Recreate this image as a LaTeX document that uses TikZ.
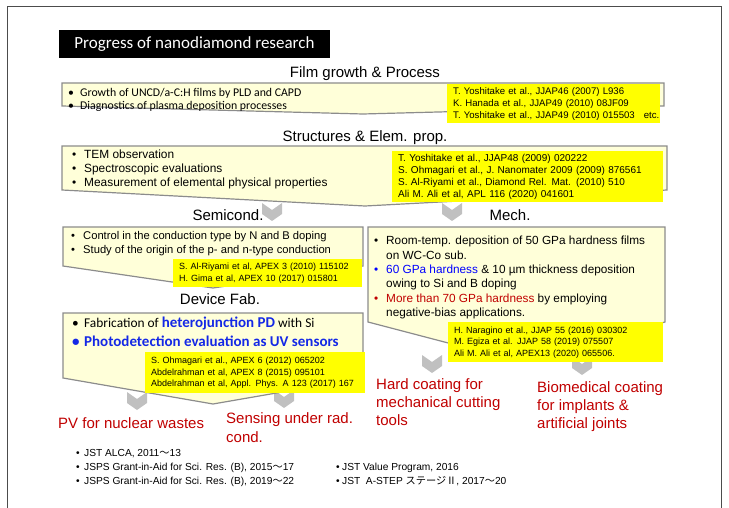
\documentclass[tikz,border=0pt]{standalone}
\usepackage{fontspec}
\setmainfont{Liberation Sans}
\newfontfamily\calibri{Carlito}
\newfontfamily\cjk{Noto Sans CJK JP}
\usepackage{xcolor}
\usepackage{tikz}
\usetikzlibrary{positioning}

\definecolor{panelfill}{HTML}{FFFFD9}
\definecolor{paneldraw}{HTML}{8C8C8C}
\definecolor{refyellow}{HTML}{FFFF00}
\definecolor{chevgray}{HTML}{C0C0C0}
\definecolor{outred}{HTML}{C00000}
\definecolor{hiblue}{HTML}{0000FF}
\definecolor{devblue}{HTML}{1428E6}

\newcommand{\bitem}{\makebox[12pt][l]{\textbullet}}
\newcommand{\bskip}{\hspace*{12pt}}

\begin{document}
\begin{tikzpicture}[x=1pt, y=-1pt,
    titlebox/.style={fill=black, text=white, font=\calibri\fontsize{17}{20}\selectfont, minimum width=271pt, minimum height=28pt, inner sep=0pt},
    heading/.style={inner sep=0pt, font=\fontsize{15}{18}\selectfont},
    panel/.style={draw=paneldraw, fill=panelfill, line width=1.2pt},
    items/.style={anchor=north west, align=left, inner sep=0pt, font=\fontsize{11.2}{14}\selectfont},
    refbox/.style={fill=refyellow, anchor=north west, align=left, inner xsep=6pt, inner ysep=0pt, font=\fontsize{9}{11.5}\selectfont},
    outcome/.style={anchor=north west, align=left, inner sep=0pt, text=outred, font=\fontsize{15}{18.5}\selectfont},
    fund/.style={anchor=north west, align=left, inner sep=0pt, font=\fontsize{10.2}{14}\selectfont},
    chevron/.pic={\fill[chevgray] (-10,0) -- (0,7) -- (10,0) -- (10,11) -- (0,18) -- (-10,11) -- cycle;}]

    \useasboundingbox (0,0) rectangle (729,508);
    \draw[black!70, line width=1pt] (7,508) -- (7,7) -- (721,7) -- (721,508);

    \node [titlebox] (title) at (194.5,44) {Progress of nanodiamond research};

    % arrows between stages
    \pic at (272,203) {chevron};
    \pic at (452,203) {chevron};
    \pic at (137,392) {chevron};
    \pic at (284,390) {chevron};
    \pic at (432,355) {chevron};
    \pic at (582,357) {chevron};

    % stage panels
    \draw [panel] (62,83) -- (664,83) -- (664,106) -- (363,114) -- (62,106) -- cycle;
    \draw [panel] (62,146) -- (667,146) -- (667,190) -- (365,206) -- (62,190) -- cycle;
    \draw [panel] (63,227) -- (363,227) -- (363,266) -- (213,288) -- (63,266) -- cycle;
    \draw [panel] (368,227) -- (665,227) -- (665,322) -- (517,361) -- (368,322) -- cycle;
    \draw [panel] (63,313) -- (363,313) -- (363,378) -- (213,404) -- (63,378) -- cycle;

    \node [heading] (film) at (365,74) {Film growth \& Process};
    \node [heading] (struct) at (365,138) {Structures \& Elem. prop.};
    \node [heading] (semi) at (228,215) {Semicond.};
    \node [heading] (mech) at (510,215) {Mech.};
    \node [heading] (dev) at (220,299) {Device Fab.};

    \node [items, font=\calibri\fontsize{11.8}{13}\selectfont] (filmtxt) at (68,88.5)
        {\bitem Growth of UNCD/a-C:H films by PLD and CAPD\\
         \bitem Diagnostics of plasma deposition processes};
    \node [items, font=\fontsize{11.9}{14}\selectfont] (structtxt) at (72,150)
        {\bitem TEM observation\\
         \bitem Spectroscopic evaluations\\
         \bitem Measurement of elemental physical properties};
    \node [items] (semitxt) at (71,231)
        {\bitem Control in the conduction type by N and B doping\\
         \bitem Study of the origin of the p- and n-type conduction};
    \node [items, font=\fontsize{11.8}{14.4}\selectfont] (mechtxt) at (374,236)
        {\bitem Room-temp. deposition of 50 GPa hardness films\\
         \bskip on WC-Co sub.\\
         \textcolor{hiblue}{\bitem 60 GPa hardness} \& 10 µm thickness deposition\\
         \bskip owing to Si and B doping\\
         \textcolor{outred}{\bitem More than 70 GPa hardness} by employing\\
         \bskip negative-bias applications.};
    \node [items, font=\calibri\fontsize{13.4}{17}\selectfont] (devtxt) at (72,317)
        {\bitem Fabrication of \textcolor{devblue}{\bfseries\fontsize{15}{17}\selectfont heterojunction PD} with Si\\[2pt]
         \textcolor{devblue}{\bfseries\fontsize{15}{17}\selectfont\bitem Photodetection evaluation as UV sensors}};

    % references
    \node [refbox, font=\fontsize{9.6}{12}\selectfont, text width=201pt, minimum height=39pt] (filmref) at (447,84)
        {T. Yoshitake et al., JJAP46 (2007) L936\\
         K. Hanada et al., JJAP49 (2010) 08JF09\\
         \mbox{T. Yoshitake et al., JJAP49 (2010) 015503\hspace{9pt}etc.}};
    \node [refbox, font=\fontsize{10}{12}\selectfont, text width=259pt, minimum height=51pt] (structref) at (392,151)
        {T. Yoshitake et al., JJAP48 (2009) 020222\\
         S. Ohmagari et al., J. Nanomater 2009 (2009) 876561\\
         S. Al-Riyami et al., Diamond Rel. Mat. (2010) 510\\
         Ali M. Ali et al, APL 116 (2020) 041601};
    \node [refbox, text width=177pt, minimum height=28pt] (semiref) at (173,259)
        {S. Al-Riyami et al, APEX 3 (2010) 115102\\
         H. Gima et al, APEX 10 (2017) 015801};
    \node [refbox, text width=203pt, minimum height=40pt] (mechref) at (448,322)
        {H. Naragino et al., JJAP 55 (2016) 030302\\
         M. Egiza et al. JJAP 58 (2019) 075507\\
         Ali M. Ali et al, APEX13 (2020) 065506.};
    \node [refbox, text width=208pt, minimum height=41pt] (devref) at (145,352)
        {S. Ohmagari et al., APEX 6 (2012) 065202\\
         Abdelrahman et al, APEX 8 (2015) 095101\\
         Abdelrahman et al, Appl. Phys. A 123 (2017) 167};

    % applications
    \node [outcome] (pv) at (58,417) {PV for nuclear wastes};
    \node [outcome, font=\fontsize{15}{19}\selectfont] (sensing) at (226,412) {Sensing under rad.\\cond.};
    \node [outcome, font=\fontsize{15}{18}\selectfont] (hard) at (376,378) {Hard coating for\\mechanical cutting\\tools};
    \node [outcome, font=\fontsize{15}{18}\selectfont] (bio) at (537,381) {Biomedical coating\\for implants \&\\artificial joints};

    % funding
    \node [fund] (fundl) at (76,449)
        {\makebox[8pt][l]{\textbullet}JST ALCA, 2011{\cjk ～}13\\
         \makebox[8pt][l]{\textbullet}JSPS Grant-in-Aid for Sci. Res. (B), 2015{\cjk ～}17\\
         \makebox[8pt][l]{\textbullet}JSPS Grant-in-Aid for Sci. Res. (B), 2019{\cjk ～}22};
    \node [fund] (fundr) at (336,463)
        {\makebox[6pt][l]{\textbullet}JST Value Program, 2016\\
         \makebox[6pt][l]{\textbullet}JST\ \ A-STEP {\cjk ステージⅡ}, 2017{\cjk ～}20};
\end{tikzpicture}
\end{document}
